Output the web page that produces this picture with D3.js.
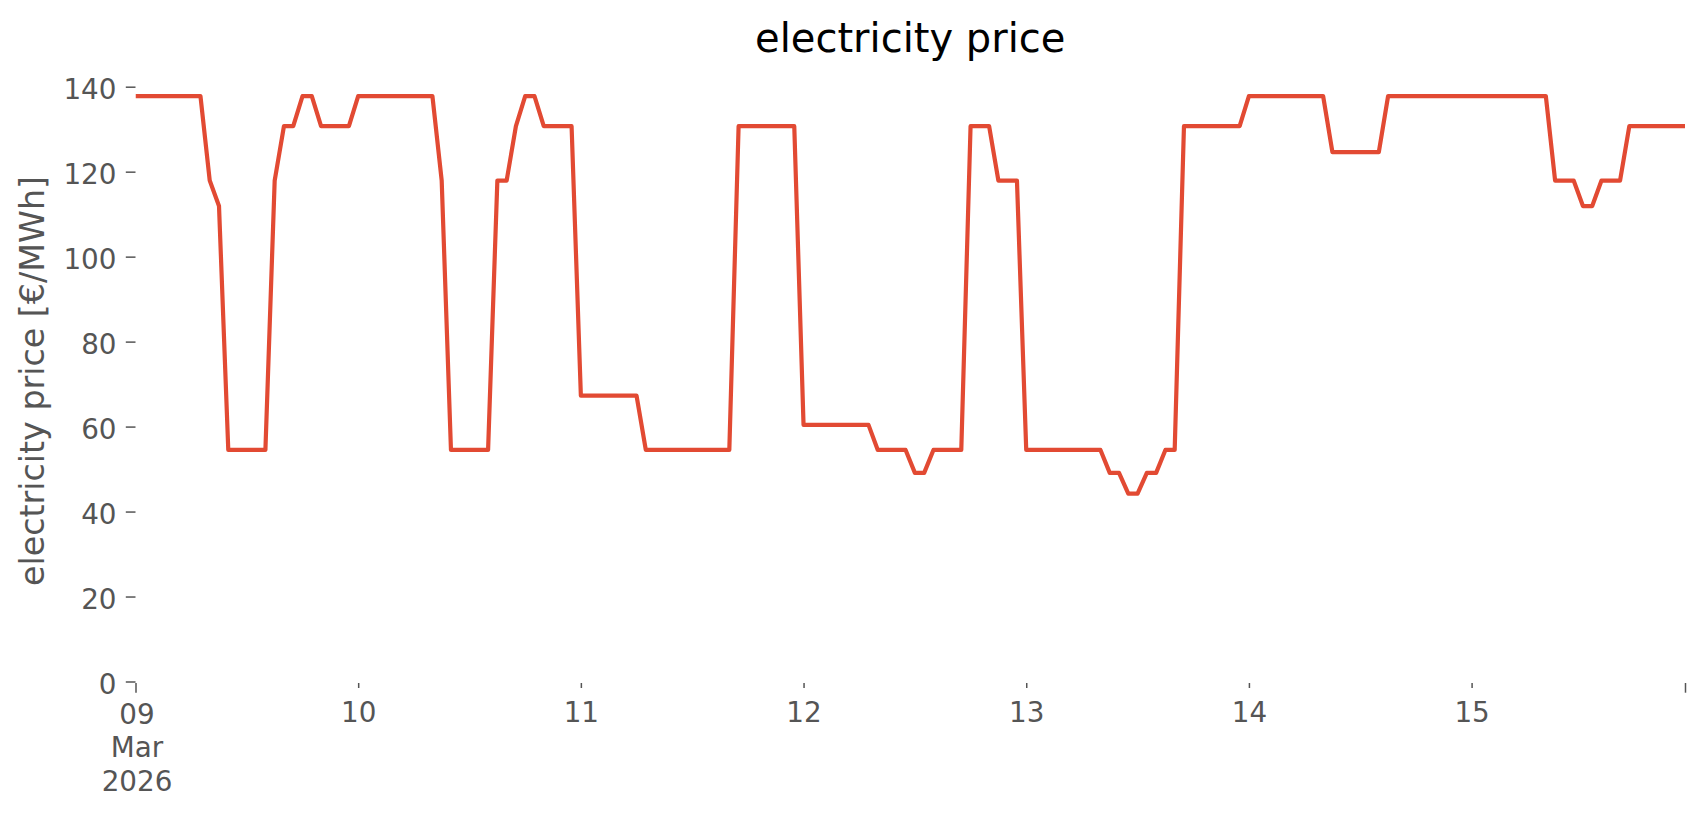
<!DOCTYPE html>
<html>
<head>
<meta charset="utf-8">
<script src="https://cdn.jsdelivr.net/npm/d3@7"></script>
<style>
  body { margin: 0; background: #ffffff; }
  text { font-family: "DejaVu Sans", sans-serif; }
</style>
</head>
<body>
<svg id="chart" width="1706" height="815"></svg>
<script>
// ---------------- data (hourly electricity price, €/MWh) ----------------
const startTime = "2026-03-09T00:00:00Z";
const priceMar09 = [137.8,137.8,137.8,137.8,137.8,137.8,137.8,137.8,117.9,111.9,54.5,54.5,54.5,54.5,54.5,117.9,130.7,130.7,137.8,137.8,130.7,130.7,130.7,130.7];
const priceMar10 = [137.8,137.8,137.8,137.8,137.8,137.8,137.8,137.8,137.8,117.9,54.5,54.5,54.5,54.5,54.5,117.9,117.9,130.7,137.8,137.8,130.7,130.7,130.7,130.7];
const priceMar11 = [67.3,67.3,67.3,67.3,67.3,67.3,67.3,54.5,54.5,54.5,54.5,54.5,54.5,54.5,54.5,54.5,54.5,130.7,130.7,130.7,130.7,130.7,130.7,130.7];
const priceMar12 = [60.4,60.4,60.4,60.4,60.4,60.4,60.4,60.4,54.5,54.5,54.5,54.5,49.1,49.1,54.5,54.5,54.5,54.5,130.7,130.7,130.7,117.9,117.9,117.9];
const priceMar13 = [54.5,54.5,54.5,54.5,54.5,54.5,54.5,54.5,54.5,49.1,49.1,44.2,44.2,49.1,49.1,54.5,54.5,130.7,130.7,130.7,130.7,130.7,130.7,130.7];
const priceMar14 = [137.8,137.8,137.8,137.8,137.8,137.8,137.8,137.8,137.8,124.6,124.6,124.6,124.6,124.6,124.6,137.8,137.8,137.8,137.8,137.8,137.8,137.8,137.8,137.8];
const priceMar15 = [137.8,137.8,137.8,137.8,137.8,137.8,137.8,137.8,137.8,117.9,117.9,117.9,111.9,111.9,117.9,117.9,117.9,130.7,130.7,130.7,130.7,130.7,130.7,130.7];

const yTickValues = [0, 20, 40, 60, 80, 100, 120, 140];
const xMinorTickDates = ["2026-03-10T00:00:00Z","2026-03-11T00:00:00Z","2026-03-12T00:00:00Z","2026-03-13T00:00:00Z","2026-03-14T00:00:00Z","2026-03-15T00:00:00Z"];
const xMinorTickLabels = ["10","11","12","13","14","15"];
const xMajorTickDates = ["2026-03-09T00:00:00Z","2026-03-15T23:00:00Z"];
const xMajorTickLabels = [["09","Mar","2026"], []];

const titleText = "electricity price";
const yLabelText = "electricity price [€/MWh]";

// ---------------- build series ----------------
const prices = [].concat(priceMar09, priceMar10, priceMar11, priceMar12, priceMar13, priceMar14, priceMar15);
const t0 = new Date(startTime).getTime();
const series = prices.map((v, i) => ({ t: new Date(t0 + i * 3600 * 1000), v }));

// ---------------- layout ----------------
const svg = d3.select("#chart");
const plotLeft = 135.5, plotRight = 1685, plotBottom = 683, plotTop = 79;
const textColor = "#555555";

const x = d3.scaleUtc()
  .domain([series[0].t, series[series.length - 1].t])
  .range([plotLeft, plotRight]);
const y = d3.scaleLinear()
  .domain([0, 140])
  .range([681.5, 86.7]);

// clip
svg.append("defs").append("clipPath").attr("id", "plotclip")
  .append("rect").attr("x", plotLeft).attr("y", plotTop - 10)
  .attr("width", plotRight - plotLeft).attr("height", plotBottom - plotTop + 10);

// ---------------- y axis ----------------
const yAxis = svg.append("g")
  .attr("transform", `translate(${plotLeft},0)`)
  .call(d3.axisLeft(y).tickValues(yTickValues).tickSize(9.7).tickPadding(9.3));
yAxis.select(".domain").remove();
yAxis.selectAll(".tick line").attr("stroke", textColor).attr("stroke-width", 1.5);
yAxis.selectAll(".tick text")
  .attr("fill", textColor)
  .attr("font-size", 27.8)
  .attr("font-family", "DejaVu Sans")
  .attr("dy", "0.44em");

// ---------------- x axis (minor day ticks) ----------------
const xMinor = svg.append("g")
  .attr("transform", `translate(0,${plotBottom})`)
  .call(d3.axisBottom(x)
    .tickValues(xMinorTickDates.map(d => new Date(d)))
    .tickSize(5)
    .tickPadding(14)
    .tickFormat((d, i) => xMinorTickLabels[i]));
xMinor.select(".domain").remove();
xMinor.selectAll(".tick line").attr("stroke", textColor).attr("stroke-width", 1.5);
xMinor.selectAll(".tick text")
  .attr("fill", textColor)
  .attr("font-size", 27.8)
  .attr("font-family", "DejaVu Sans")
  .attr("dy", "0.71em");

// ---------------- x axis (major ticks) ----------------
const xMajor = svg.append("g")
  .attr("transform", `translate(0,${plotBottom})`)
  .call(d3.axisBottom(x)
    .tickValues(xMajorTickDates.map(d => new Date(d)))
    .tickSize(9.7)
    .tickPadding(12)
    .tickFormat(() => ""));
xMajor.select(".domain").remove();
xMajor.selectAll(".tick line").attr("stroke", textColor).attr("stroke-width", 1.5);
xMajor.selectAll(".tick text").each(function (d, i) {
  const t = d3.select(this)
    .attr("fill", textColor)
    .attr("font-size", 27.8)
    .attr("font-family", "DejaVu Sans")
    .attr("dy", null)
    .attr("y", 41);
  xMajorTickLabels[i].forEach((s, k) => {
    t.append("tspan").attr("x", 1).attr("y", 41 + k * 33.3).text(s);
  });
});

// ---------------- line ----------------
const line = d3.line().x(d => x(d.t)).y(d => y(d.v));
svg.append("path")
  .datum(series)
  .attr("clip-path", "url(#plotclip)")
  .attr("fill", "none")
  .attr("stroke", "#E24A33")
  .attr("stroke-width", 4.2)
  .attr("stroke-linejoin", "round")
  .attr("stroke-linecap", "butt")
  .attr("d", line);

// ---------------- title & labels ----------------
svg.append("text")
  .attr("x", (plotLeft + plotRight) / 2)
  .attr("y", 51.5)
  .attr("text-anchor", "middle")
  .attr("font-size", 40)
  .attr("fill", "#000000")
  .text(titleText);

svg.append("text")
  .attr("transform", "translate(44,381) rotate(-90)")
  .attr("text-anchor", "middle")
  .attr("font-size", 33.3)
  .attr("fill", textColor)
  .text(yLabelText);
</script>
</body>
</html>
